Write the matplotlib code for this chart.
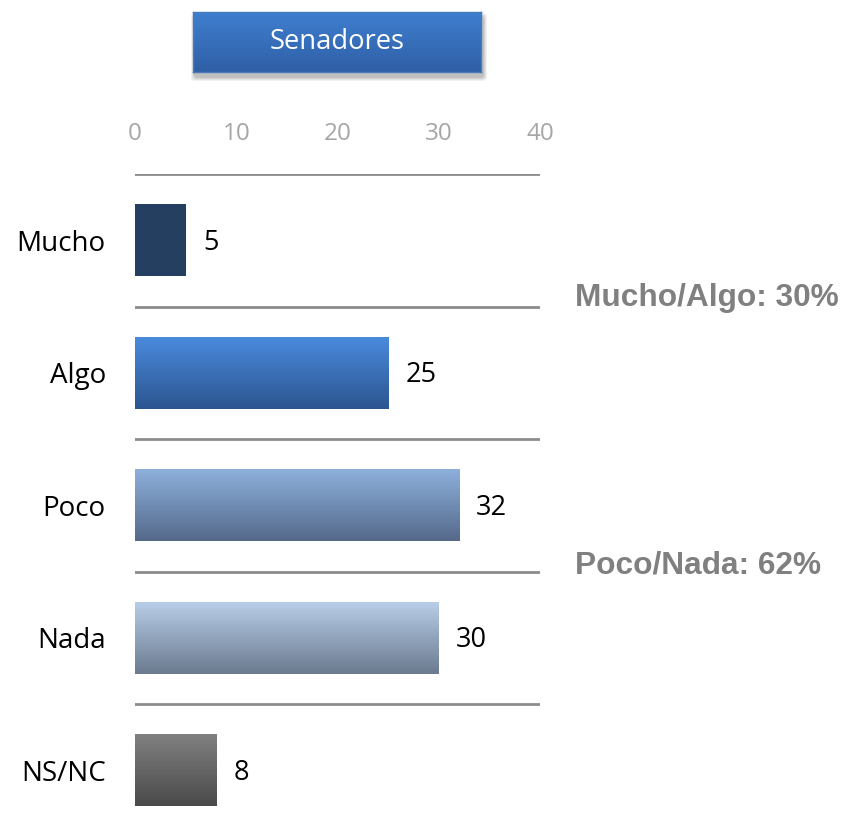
import numpy as np
import matplotlib.pyplot as plt
from matplotlib.colors import LinearSegmentedColormap
from matplotlib.patches import FancyBboxPatch

# ---------------------------------------------------------------------------
# Data
# ---------------------------------------------------------------------------
CATEGORIES = ["Mucho", "Algo", "Poco", "Nada", "NS/NC"]
VALUES = [5, 25, 32, 30, 8]
TICKS = [0, 10, 20, 30, 40]
TITLE = "Senadores"

# gradient (top, bottom) for each bar
BAR_COLORS = [
    ("#243F60", "#243F60"),
    ("#4A8ADC", "#2C5590"),
    ("#8DB0DC", "#55698A"),
    ("#B8CDE8", "#6B7A8F"),
    ("#808080", "#4A4A4A"),
]

plt.rcParams["font.family"] = ["Open Sans", "DejaVu Sans"]

W, H = 846, 833
fig = plt.figure(figsize=(W / 100, H / 100), dpi=100)
fig.patch.set_facecolor("white")

# axes: x 0..40 -> px 135..540, top gridline at px 174, 132 px per row
left, right = 135, 540
top = 174
row = 132.5
bottom_px = top + row * 5
ax = fig.add_axes([left / W, (H - bottom_px) / H, (right - left) / W, (bottom_px - top) / H])

bar_h = 0.54
ypos = np.arange(len(CATEGORIES))
for y, v, (c_top, c_bot) in zip(ypos, VALUES, BAR_COLORS):
    cmap = LinearSegmentedColormap.from_list("g", [c_top, c_bot])
    grad = np.linspace(0, 1, 100).reshape(-1, 1)
    ax.imshow(grad, cmap=cmap, aspect="auto", origin="upper",
              extent=(0, v, y + bar_h / 2, y - bar_h / 2), zorder=2)
    ax.text(v + 1.7, y + 0.02, str(v), va="center", ha="left", fontsize=19.5, color="black")

# separators between categories
for yl in np.arange(-0.5, len(CATEGORIES) - 1, 1.0):
    ax.axhline(yl, color="#8c8c8c", lw=2, zorder=1)

ax.set_xlim(0, 40)
ax.set_ylim(len(CATEGORIES) - 0.5, -0.5)
ax.set_xticks(TICKS)
ax.xaxis.tick_top()
ax.tick_params(axis="x", length=0, labelsize=17.5, labelcolor="#a6a6a6", pad=20.5)
ax.set_yticks(ypos)
ax.set_yticklabels(CATEGORIES)
ax.tick_params(axis="y", length=0, labelsize=20, labelcolor="black", pad=21)
for s in ax.spines.values():
    s.set_visible(False)
ax.patch.set_alpha(0)

# title box with soft shadow
bx, by, bw, bh = 193, 12, 288, 60
for i, a in enumerate([0.10, 0.12, 0.15, 0.2]):
    grow = 4 - i
    shadow = FancyBboxPatch((bx + 2 - grow, H - by - bh - 5 - grow), bw + 2 * grow, bh + 2 * grow,
                            boxstyle="round,pad=0,rounding_size=4", transform=None,
                            facecolor="#7a7a7a", edgecolor="none", alpha=a, zorder=-1)
    fig.patches.append(shadow)
tax = fig.add_axes([bx / W, (H - by - bh) / H, bw / W, bh / H])
tcmap = LinearSegmentedColormap.from_list("t", ["#3F7FCF", "#2F5FA6"])
tax.imshow(np.linspace(0, 1, 100).reshape(-1, 1), cmap=tcmap, aspect="auto",
           extent=(0, 1, 0, 1))
tax.text(0.5, 0.5, TITLE, color="white", fontsize=19.7, ha="center", va="center",
         transform=tax.transAxes)
tax.set_xticks([])
tax.set_yticks([])
for s in tax.spines.values():
    s.set_edgecolor("#4a7ab8")
    s.set_linewidth(1)

# grouped totals on the right
mucho_algo = VALUES[0] + VALUES[1]
poco_nada = VALUES[2] + VALUES[3]
fig.text(575 / W, 1 - 298 / H, f"Mucho/Algo: {mucho_algo}%", fontsize=22.8,
         fontweight="bold", color="#808080", family="Liberation Sans", va="center")
fig.text(575 / W, 1 - 566 / H, f"Poco/Nada: {poco_nada}%", fontsize=22.8,
         fontweight="bold", color="#808080", family="Liberation Sans", va="center")

fig.savefig("out.png", dpi=100)
